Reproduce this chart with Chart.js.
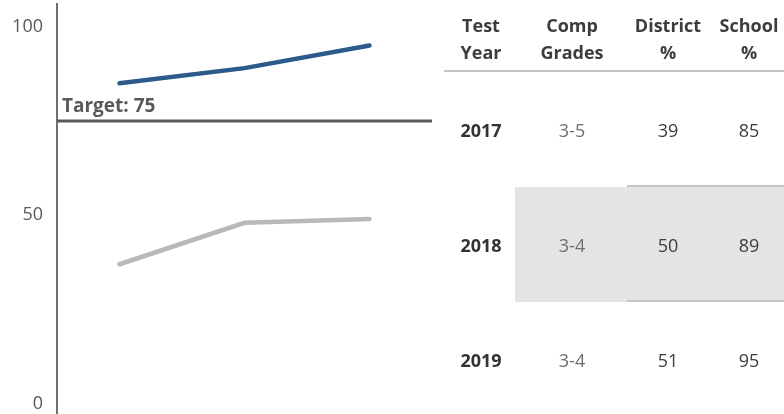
<!DOCTYPE html>
<html>
<head>
<meta charset="utf-8">
<script src="https://cdn.jsdelivr.net/npm/chart.js@4.4.0/dist/chart.umd.min.js"></script>
<style>
    html, body { margin: 0; padding: 0; background: #fff; }
    #wrap { position: relative; width: 784px; height: 414px; overflow: hidden; font-family: "Open Sans", sans-serif; }
    #myChart { position: absolute; left: 0; top: 0; }
    .cell { position: absolute; transform: translate(-50%, -50%); white-space: nowrap; font-size: 18px; }
    .head { font-weight: bold; color: #3d3d3d; }
    .year { font-weight: bold; color: #333; }
    .grade { color: #6e6e6e; }
    .num { color: #3d3d3d; }
    .rule { position: absolute; height: 2px; background: #c4c4c4; }
    .band { position: absolute; background: #e4e4e4; }
</style>
</head>
<body>
<div id="wrap">
    <canvas id="myChart" width="784" height="414"></canvas>
</div>
<script>
// values
const years = ['2017', '2018', '2019'];
const schoolPct = [85, 89, 95];
const districtLine = [37, 48, 49];   // where the grey line sits
const districtPct = [39, 50, 51];    // what the table says
const compGrades = ['3-5', '3-4', '3-4'];
const yTicks = [0, 50, 100];
const target = 75;

const headTop = ['Test', 'Comp', 'District', 'School'];
const headBottom = ['Year', 'Grades', '%', '%'];

// table layout
const colX = [481, 572, 668, 749];
const rowY = [130, 245, 360];
const wrap = document.getElementById('wrap');

const add = (cls, text, x, y) => {
    const d = document.createElement('div');
    d.className = 'cell ' + cls;
    d.textContent = text;
    d.style.left = x + 'px';
    d.style.top = y + 'px';
    wrap.appendChild(d);
};

// grey band behind 2018
const band = document.createElement('div');
band.className = 'band';
Object.assign(band.style, { left: '515px', top: '187px', width: '269px', height: '115px' });
wrap.appendChild(band);

const rule = (x, y, w) => {
    const r = document.createElement('div');
    r.className = 'rule';
    Object.assign(r.style, { left: x + 'px', top: y + 'px', width: w + 'px' });
    wrap.appendChild(r);
};
rule(444, 70, 340);
rule(627, 185, 157);
rule(627, 300, 157);

headTop.forEach((t, i) => add('head', t, colX[i], 25));
headBottom.forEach((t, i) => add('head', t, colX[i], 52));
years.forEach((y, i) => {
    add('year', y, colX[0], rowY[i]);
    add('grade', compGrades[i], colX[1], rowY[i]);
    add('num', String(districtPct[i]), colX[2], rowY[i]);
    add('num', String(schoolPct[i]), colX[3], rowY[i]);
});

const targetLine = {
    id: 'targetLine',
    afterDatasetsDraw(chart) {
        const { ctx, chartArea, scales } = chart;
        const y = scales.y.getPixelForValue(target);
        ctx.save();
        ctx.strokeStyle = '#595959';
        ctx.lineWidth = 3;
        ctx.beginPath();
        ctx.moveTo(chartArea.left, y);
        ctx.lineTo(chartArea.right, y);
        ctx.stroke();
        ctx.fillStyle = '#595959';
        ctx.font = 'bold 19px "Open Sans"';
        ctx.textBaseline = 'alphabetic';
        ctx.fillText('Target: ' + target, chartArea.left + 5, y - 9);
        ctx.restore();
    }
};

const myChart = new Chart(document.getElementById('myChart').getContext('2d'), {
    type: 'line',
    data: {
        labels: years,
        datasets: [
            {
                label: 'School %',
                data: schoolPct,
                borderColor: '#2c5a8a',
                borderWidth: 4.5,
                borderCapStyle: 'round',
                pointRadius: 0,
                tension: 0,
            },
            {
                label: 'District %',
                data: districtLine,
                borderColor: '#b8b8b8',
                borderWidth: 4.5,
                borderCapStyle: 'round',
                pointRadius: 0,
                tension: 0,
            },
        ],
    },
    options: {
        responsive: false,
        animation: false,
        layout: { padding: { top: 4, right: 352, bottom: 0, left: 0 } },
        plugins: { legend: { display: false }, tooltip: { enabled: false } },
        scales: {
            x: { display: false, offset: true },
            y: {
                min: -2.7,
                max: 106,
                afterBuildTicks: (scale) => { scale.ticks = yTicks.map(v => ({ value: v })); },
                afterFit: (scale) => {
                    scale.width = 57;
                    scale.paddingTop = 0;
                    scale.paddingBottom = 0;
                },
                grid: { display: false, drawTicks: false },
                border: { display: true, color: '#6f6f6f', width: 2 },
                ticks: { padding: 14, color: '#595959', font: { family: 'Open Sans', size: 18 } },
            },
        },
    },
    plugins: [targetLine],
});
</script>
</body>
</html>
